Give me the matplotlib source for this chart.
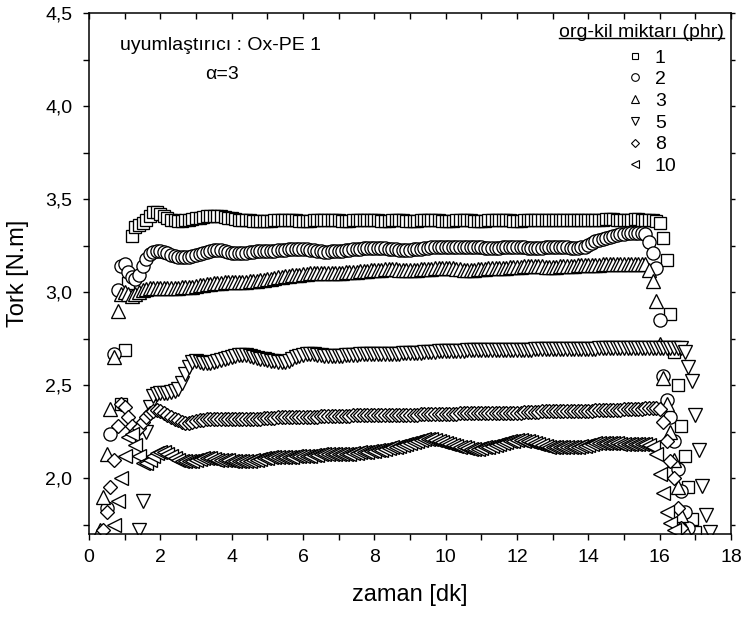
import numpy as np
import matplotlib
matplotlib.use('Agg')
import matplotlib.pyplot as plt
from matplotlib.ticker import MultipleLocator, FuncFormatter
from matplotlib.lines import Line2D

plt.rcParams['font.family'] = ['Liberation Sans', 'DejaVu Sans']

# ---------------- data ----------------
ORNEKLEME = 0.1  # dk, sampling interval of the torque readings

etiketler = ['1', '2', '3', '5', '8', '10']
baslangic = [0.9, 0.5, 0.3, 1.4, 0.4, 0.7]   # first reading time (dk)

tork_1 = [2.40,
          2.69, 3.05, 3.30, 3.35, 3.36, 3.37, 3.39, 3.41, 3.43, 3.43,
          3.42, 3.41, 3.40, 3.39, 3.385, 3.38, 3.38, 3.385, 3.39, 3.395,
          3.40, 3.40, 3.405, 3.41, 3.41, 3.41, 3.41, 3.41, 3.405, 3.40,
          3.40, 3.395, 3.39, 3.39, 3.385, 3.385, 3.38, 3.38, 3.38, 3.38,
          3.38, 3.38, 3.385, 3.385, 3.385, 3.39, 3.39, 3.385, 3.385, 3.38,
          3.38, 3.38, 3.38, 3.385, 3.385, 3.39, 3.39, 3.39, 3.385, 3.385,
          3.385, 3.38, 3.38, 3.38, 3.385, 3.385, 3.385, 3.39, 3.39, 3.39,
          3.385, 3.385, 3.38, 3.38, 3.38, 3.385, 3.385, 3.385, 3.385, 3.38,
          3.38, 3.38, 3.38, 3.385, 3.39, 3.39, 3.39, 3.385, 3.385, 3.38,
          3.38, 3.38, 3.38, 3.385, 3.385, 3.385, 3.385, 3.385, 3.38, 3.38,
          3.38, 3.38, 3.385, 3.385, 3.39, 3.39, 3.385, 3.385, 3.385, 3.38,
          3.38, 3.38, 3.385, 3.385, 3.385, 3.39, 3.39, 3.39, 3.385, 3.385,
          3.385, 3.385, 3.385, 3.39, 3.39, 3.39, 3.385, 3.385, 3.385, 3.385,
          3.385, 3.39, 3.39, 3.39, 3.39, 3.395, 3.395, 3.395, 3.39, 3.39,
          3.39, 3.39, 3.39, 3.395, 3.395, 3.39, 3.39, 3.385, 3.385, 3.38,
          3.37, 3.29, 3.17, 2.88, 2.68, 2.50, 2.28, 2.12, 1.95, 1.78,
          1.71]

tork_2 = [1.84, 2.24, 2.67, 3.01, 3.14,
          3.15, 3.11, 3.08, 3.07, 3.09, 3.14, 3.18, 3.205, 3.215, 3.22,
          3.22, 3.215, 3.21, 3.20, 3.195, 3.19, 3.19, 3.19, 3.19, 3.195,
          3.20, 3.205, 3.21, 3.215, 3.22, 3.225, 3.225, 3.225, 3.22, 3.215,
          3.21, 3.21, 3.21, 3.21, 3.21, 3.215, 3.215, 3.22, 3.22, 3.22,
          3.22, 3.22, 3.22, 3.225, 3.225, 3.225, 3.23, 3.23, 3.23, 3.23,
          3.23, 3.23, 3.225, 3.225, 3.22, 3.22, 3.215, 3.215, 3.22, 3.22,
          3.22, 3.22, 3.225, 3.225, 3.23, 3.23, 3.23, 3.235, 3.235, 3.235,
          3.235, 3.235, 3.235, 3.235, 3.23, 3.23, 3.23, 3.225, 3.225, 3.225,
          3.225, 3.23, 3.23, 3.23, 3.235, 3.235, 3.24, 3.24, 3.24, 3.24,
          3.24, 3.24, 3.24, 3.24, 3.245, 3.245, 3.245, 3.24, 3.24, 3.24,
          3.24, 3.235, 3.235, 3.235, 3.235, 3.235, 3.24, 3.24, 3.24, 3.24,
          3.24, 3.24, 3.24, 3.235, 3.235, 3.235, 3.235, 3.235, 3.24, 3.24,
          3.24, 3.24, 3.24, 3.24, 3.24, 3.235, 3.235, 3.235, 3.24, 3.245,
          3.255, 3.265, 3.275, 3.28, 3.285, 3.29, 3.295, 3.30, 3.305, 3.31,
          3.31, 3.315, 3.315, 3.315, 3.315, 3.315, 3.31, 3.27, 3.21, 3.13,
          2.85, 2.55, 2.42, 2.33, 2.20, 2.05, 1.93, 1.82, 1.73]

tork_3 = [1.72, 1.90, 2.13, 2.37, 2.65, 2.90, 2.99,
          3.00, 2.99, 2.98, 2.99, 3.00, 3.01, 3.015, 3.02, 3.02, 3.02,
          3.02, 3.02, 3.02, 3.02, 3.02, 3.02, 3.025, 3.025, 3.03, 3.03,
          3.035, 3.04, 3.04, 3.045, 3.045, 3.05, 3.05, 3.05, 3.055, 3.055,
          3.055, 3.055, 3.055, 3.055, 3.055, 3.06, 3.06, 3.06, 3.065, 3.065,
          3.07, 3.07, 3.075, 3.08, 3.08, 3.085, 3.085, 3.09, 3.09, 3.09,
          3.095, 3.095, 3.10, 3.10, 3.10, 3.10, 3.10, 3.10, 3.105, 3.105,
          3.105, 3.105, 3.11, 3.11, 3.11, 3.11, 3.115, 3.115, 3.115, 3.12,
          3.12, 3.12, 3.12, 3.125, 3.125, 3.125, 3.125, 3.12, 3.12, 3.12,
          3.12, 3.12, 3.12, 3.125, 3.125, 3.125, 3.125, 3.13, 3.13, 3.13,
          3.13, 3.13, 3.13, 3.125, 3.125, 3.12, 3.12, 3.12, 3.12, 3.125,
          3.125, 3.125, 3.13, 3.13, 3.13, 3.13, 3.13, 3.13, 3.135, 3.135,
          3.135, 3.135, 3.14, 3.14, 3.14, 3.14, 3.14, 3.14, 3.135, 3.135,
          3.135, 3.135, 3.14, 3.14, 3.14, 3.14, 3.14, 3.145, 3.145, 3.145,
          3.145, 3.145, 3.145, 3.145, 3.15, 3.15, 3.15, 3.15, 3.15, 3.15,
          3.15, 3.15, 3.15, 3.15, 3.15, 3.15, 3.15, 3.12, 3.06, 2.95,
          2.72, 2.54, 2.40, 2.25, 2.10, 1.95, 1.80, 1.72]

tork_5 = [1.72, 1.88, 2.25, 2.38, 2.44, 2.455,
          2.46, 2.46, 2.46, 2.465, 2.47, 2.48, 2.51, 2.56, 2.60, 2.625,
          2.63, 2.625, 2.62, 2.62, 2.62, 2.625, 2.63, 2.635, 2.64, 2.645,
          2.65, 2.655, 2.66, 2.66, 2.66, 2.655, 2.65, 2.645, 2.64, 2.64,
          2.635, 2.63, 2.63, 2.625, 2.625, 2.625, 2.63, 2.64, 2.65, 2.655,
          2.66, 2.665, 2.665, 2.665, 2.66, 2.66, 2.655, 2.655, 2.655, 2.655,
          2.655, 2.655, 2.66, 2.66, 2.66, 2.66, 2.665, 2.665, 2.665, 2.67,
          2.67, 2.67, 2.67, 2.67, 2.67, 2.67, 2.67, 2.67, 2.675, 2.675,
          2.675, 2.675, 2.675, 2.675, 2.68, 2.68, 2.68, 2.68, 2.685, 2.685,
          2.685, 2.685, 2.685, 2.685, 2.685, 2.685, 2.69, 2.69, 2.69, 2.69,
          2.69, 2.69, 2.69, 2.69, 2.69, 2.69, 2.69, 2.69, 2.69, 2.69,
          2.69, 2.69, 2.69, 2.69, 2.69, 2.695, 2.695, 2.695, 2.695, 2.695,
          2.695, 2.695, 2.695, 2.695, 2.695, 2.695, 2.695, 2.695, 2.695, 2.695,
          2.695, 2.695, 2.695, 2.70, 2.70, 2.70, 2.70, 2.70, 2.70, 2.70,
          2.70, 2.70, 2.70, 2.70, 2.70, 2.70, 2.70, 2.70, 2.70, 2.70,
          2.70, 2.70, 2.70, 2.70, 2.70, 2.70, 2.70, 2.68, 2.60, 2.52,
          2.34, 2.15, 1.96, 1.80, 1.71]

tork_8 = [1.72, 1.82, 1.95, 2.10, 2.28, 2.40,
          2.38, 2.33, 2.28, 2.25, 2.27, 2.30, 2.33, 2.35, 2.36, 2.365,
          2.36, 2.35, 2.34, 2.33, 2.32, 2.31, 2.30, 2.295, 2.295, 2.30,
          2.305, 2.31, 2.315, 2.32, 2.32, 2.32, 2.32, 2.32, 2.32, 2.32,
          2.32, 2.32, 2.32, 2.32, 2.32, 2.32, 2.32, 2.32, 2.32, 2.325,
          2.325, 2.325, 2.325, 2.33, 2.33, 2.33, 2.33, 2.33, 2.33, 2.33,
          2.33, 2.33, 2.33, 2.33, 2.33, 2.335, 2.335, 2.335, 2.335, 2.335,
          2.335, 2.335, 2.335, 2.335, 2.34, 2.34, 2.34, 2.34, 2.34, 2.34,
          2.34, 2.34, 2.34, 2.34, 2.34, 2.34, 2.34, 2.34, 2.34, 2.34,
          2.34, 2.34, 2.34, 2.345, 2.345, 2.345, 2.345, 2.345, 2.345, 2.345,
          2.345, 2.345, 2.345, 2.345, 2.35, 2.35, 2.35, 2.35, 2.35, 2.35,
          2.35, 2.35, 2.35, 2.35, 2.35, 2.35, 2.35, 2.35, 2.35, 2.35,
          2.35, 2.35, 2.355, 2.355, 2.355, 2.355, 2.355, 2.36, 2.36, 2.36,
          2.36, 2.36, 2.36, 2.36, 2.36, 2.36, 2.36, 2.36, 2.36, 2.36,
          2.36, 2.36, 2.365, 2.365, 2.365, 2.365, 2.365, 2.365, 2.365, 2.365,
          2.37, 2.37, 2.37, 2.37, 2.37, 2.37, 2.375, 2.375, 2.375, 2.375,
          2.37, 2.30, 2.20, 2.09, 2.00, 1.84, 1.73]

tork_10 = [1.75, 1.88, 2.00,
           2.12, 2.22, 2.24, 2.18, 2.12, 2.08, 2.08, 2.10, 2.12, 2.135,
           2.14, 2.14, 2.13, 2.12, 2.11, 2.10, 2.095, 2.09, 2.09, 2.095,
           2.10, 2.105, 2.11, 2.11, 2.11, 2.105, 2.10, 2.10, 2.10, 2.10,
           2.095, 2.09, 2.09, 2.09, 2.09, 2.095, 2.10, 2.10, 2.105, 2.11,
           2.11, 2.115, 2.115, 2.115, 2.115, 2.115, 2.115, 2.115, 2.12, 2.12,
           2.12, 2.12, 2.12, 2.125, 2.125, 2.13, 2.13, 2.13, 2.13, 2.13,
           2.13, 2.13, 2.13, 2.13, 2.135, 2.135, 2.14, 2.14, 2.14, 2.145,
           2.145, 2.15, 2.15, 2.155, 2.16, 2.165, 2.17, 2.175, 2.18, 2.185,
           2.19, 2.195, 2.20, 2.205, 2.21, 2.21, 2.21, 2.205, 2.20, 2.195,
           2.19, 2.185, 2.18, 2.175, 2.17, 2.165, 2.16, 2.155, 2.155, 2.155,
           2.16, 2.165, 2.17, 2.175, 2.18, 2.185, 2.19, 2.195, 2.20, 2.20,
           2.205, 2.205, 2.20, 2.20, 2.195, 2.19, 2.185, 2.18, 2.175, 2.17,
           2.17, 2.165, 2.165, 2.165, 2.17, 2.17, 2.17, 2.17, 2.175, 2.175,
           2.18, 2.185, 2.19, 2.19, 2.19, 2.19, 2.19, 2.19, 2.19, 2.185,
           2.185, 2.185, 2.185, 2.185, 2.185, 2.185, 2.185, 2.18, 2.17, 2.13,
           2.02, 1.92, 1.82, 1.76, 1.72]

seriler = [tork_1, tork_2, tork_3, tork_5, tork_8, tork_10]

# ---------------- style ----------------
isaretler = ['s', 'o', '^', 'v', 'D', '<']
boyutlar = [9, 9.5, 10.5, 10.5, 7.5, 10.5]
lejant_boyut = [5, 5.5, 6, 6, 4.5, 6]

W, H = 744, 619
fig = plt.figure(figsize=(W / 100, H / 100), dpi=100)
ax = fig.add_axes([89 / W, 1 - 534 / H, 642 / W, 521 / H])

for y, t0, m, ms in zip(seriler, baslangic, isaretler, boyutlar):
    t = t0 + ORNEKLEME * np.arange(len(y))
    ax.plot(t, y, linestyle='none', marker=m, markersize=ms,
            markerfacecolor='white', markeredgecolor='black',
            markeredgewidth=0.95, clip_on=True)

ax.set_xlim(0, 18)
ax.set_ylim(1.7, 4.5)
ax.xaxis.set_major_locator(MultipleLocator(2))
ax.xaxis.set_minor_locator(MultipleLocator(1))
ax.yaxis.set_major_locator(MultipleLocator(0.5))
ax.yaxis.set_minor_locator(MultipleLocator(0.25))
ax.yaxis.set_major_formatter(FuncFormatter(lambda v, p: f"{v:.1f}".replace('.', ',')))
ax.xaxis.set_major_formatter(FuncFormatter(lambda v, p: f"{v:.0f}"))

for s in ax.spines.values():
    s.set_linewidth(1.1)
ax.tick_params(which='both', direction='out', width=1.0, labelsize=14,
               top=True, right=True)
ax.tick_params(which='major', length=4)
ax.tick_params(which='minor', length=4)
ax.tick_params(axis='x', which='both', pad=7)
ax.tick_params(axis='y', which='both', pad=8)
for tk in ax.xaxis.get_major_ticks() + ax.xaxis.get_minor_ticks():
    tk.tick2line.set_marker(3)  # inward tick on top
for tk in ax.yaxis.get_major_ticks() + ax.yaxis.get_minor_ticks():
    tk.tick2line.set_markersize(3)

ax.set_xlabel('zaman [dk]', fontsize=17, labelpad=13)
ax.set_ylabel('Tork [N.m]', fontsize=17, labelpad=12)

ax.text(0.048, 0.937, 'uyumlaştırıcı : Ox-PE 1', transform=ax.transAxes,
        fontsize=14, ha='left', va='center')
ax.text(0.207, 0.882, 'α=3', transform=ax.transAxes,
        fontsize=14, ha='center', va='center')

# legend title (underlined) and entries
baslik = ax.text(0.989, 0.954, 'org-kil miktarı (phr)', transform=ax.transAxes,
                 fontsize=14, ha='right', va='baseline')

tutamaklar = [Line2D([], [], linestyle='none', marker=m, markersize=ms,
                     markerfacecolor='white', markeredgecolor='black',
                     markeredgewidth=0.8)
              for m, ms in zip(isaretler, lejant_boyut)]
leg = ax.legend(tutamaklar, etiketler,
                loc='upper left', bbox_to_anchor=(0.835, 0.931),
                frameon=False, fontsize=14,
                labelspacing=0.21, handletextpad=0.53, handlelength=1.0,
                borderpad=0.0, borderaxespad=0.0)

fig.canvas.draw()
r = fig.canvas.get_renderer()
bb = baslik.get_window_extent(r)
inv = fig.transFigure.inverted()
(x0, y0), (x1, y1) = inv.transform([[bb.x0, bb.y0 + 3], [bb.x1, bb.y1]])
fig.add_artist(Line2D([x0, x1], [y0, y0], transform=fig.transFigure,
                      color='black', linewidth=1.0))

fig.savefig('out.png', dpi=100)
